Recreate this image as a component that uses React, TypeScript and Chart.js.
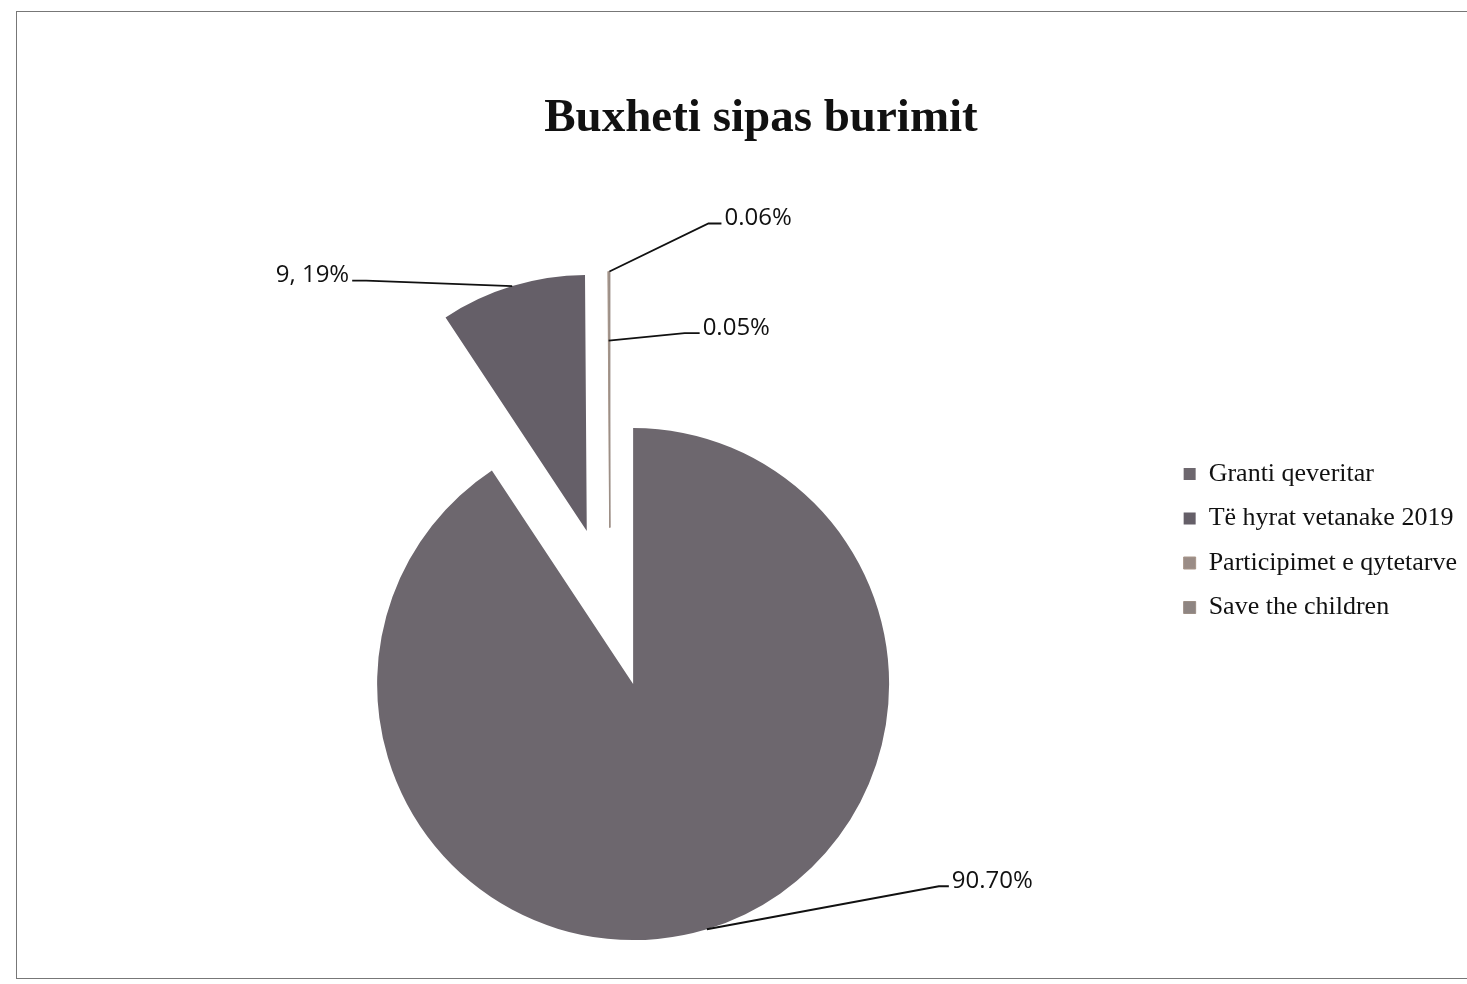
import React, { useEffect, useRef } from 'react';
import { Chart, registerables } from 'chart.js';

Chart.register(...registerables);

const TITLE = 'Buxheti sipas burimit';
const CATEGORIES = ['Granti qeveritar', 'Të hyrat vetanake 2019', 'Participimet e qytetarve', 'Save the children'];
const VALUES = [90.7, 9.19, 0.05, 0.06];
const VALUE_LABELS = ['90.70%', '9, 19%', '0.05%', '0.06%'];

const SLICE_COLORS = ['#6d676e', '#655f68', '#9a8c86', '#8e8582'];
const SLICE_BORDER = ['#6d676e', '#655f68', '#a8968a', '#9c8f86'];
const SLICE_BORDER_WIDTH = [0, 0, 1, 1];
const EXPLODE = [80, 80, 80, 80];
const LEADER_ANCHOR = [1, 1, 0.73, 1];
const LEADER_DELTA: [number, number][] = [[232, -43], [-146, -5.5], [76, -7.5], [99, -48]];
const LEADER_TAIL = [10, 14, 15, 13];

const SERIF = "'Liberation Serif', 'Times New Roman', serif";
const SANS = "'Open Sans', 'Liberation Sans', sans-serif";

const explodePlugin = {
  id: 'explodeSlices',
  beforeDatasetDraw(chart: any, args: any) {
    const meta = chart.getDatasetMeta(args.index);
    const ctx = chart.ctx;
    meta.data.forEach((arc: any, i: number) => {
      const mid = (arc.startAngle + arc.endAngle) / 2;
      const d = EXPLODE[i] || 0;
      ctx.save();
      ctx.translate(Math.cos(mid) * d, Math.sin(mid) * d);
      arc.draw(ctx);
      ctx.restore();
    });
    return false;
  },
};

const leaderPlugin = {
  id: 'leaderLabels',
  afterDatasetsDraw(chart: any) {
    const meta = chart.getDatasetMeta(0);
    const ctx = chart.ctx;
    ctx.save();
    ctx.strokeStyle = '#111';
    ctx.lineWidth = 1.9;
    ctx.fillStyle = '#111';
    ctx.font = `24px ${SANS}`;
    ctx.textBaseline = 'alphabetic';
    meta.data.forEach((arc: any, i: number) => {
      const mid = (arc.startAngle + arc.endAngle) / 2;
      const d = EXPLODE[i] || 0;
      const cx = arc.x + Math.cos(mid) * d;
      const cy = arc.y + Math.sin(mid) * d;
      const r = arc.outerRadius * LEADER_ANCHOR[i];
      const sx = cx + Math.cos(mid) * r;
      const sy = cy + Math.sin(mid) * r;
      const [dx, dy] = LEADER_DELTA[i];
      const ex = sx + dx;
      const ey = sy + dy;
      const side = dx >= 0 ? 1 : -1;
      const tx = ex + side * LEADER_TAIL[i];
      ctx.beginPath();
      ctx.moveTo(sx, sy);
      ctx.lineTo(ex, ey);
      ctx.lineTo(tx, ey);
      ctx.stroke();
      ctx.textAlign = side > 0 ? 'left' : 'right';
      ctx.fillText(VALUE_LABELS[i], tx + side * 3, ey + 1.5);
    });
    ctx.restore();
  },
};

export default function App() {
  const ref = useRef<HTMLCanvasElement>(null);
  useEffect(() => {
    document.body.style.margin = '0';
    const chart = new Chart(ref.current as HTMLCanvasElement, {
      type: 'pie',
      data: {
        labels: CATEGORIES,
        datasets: [
          {
            data: VALUES,
            backgroundColor: SLICE_COLORS,
            borderColor: SLICE_BORDER,
            borderWidth: SLICE_BORDER_WIDTH,
            offset: 0,
          },
        ],
      },
      options: {
        responsive: false,
        animation: false,
        events: [],
        radius: 256,
        layout: { padding: { left: 55, right: 0, top: 0, bottom: 5 } },
        plugins: {
          title: {
            display: true,
            text: TITLE,
            color: '#111',
            font: { family: SERIF, size: 47, weight: 'bold' },
            padding: { top: 90.8, bottom: 88.8 },
          },
          legend: {
            position: 'right',
            align: 'start',
            title: {
              display: true,
              text: ' ',
              font: { size: 1 },
              padding: { top: 0, bottom: 441.3 },
            },
            labels: {
              boxWidth: 12,
              boxHeight: 12,
              padding: 18.5,
              color: '#111',
              font: { family: SERIF, size: 26 },
            },
          },
          tooltip: { enabled: false },
        },
      } as any,
      plugins: [explodePlugin, leaderPlugin],
    });
    return () => chart.destroy();
  }, []);

  return (
    <div
      style={{
        position: 'absolute',
        left: 0,
        top: 0,
        width: 1467,
        height: 984,
        background: '#fff',
        overflow: 'hidden',
      }}
    >
      <div
        style={{
          position: 'absolute',
          left: 16,
          top: 11,
          width: 1500,
          height: 966,
          borderLeft: '1px solid #777',
          borderTop: '1px solid #777',
          borderBottom: '1px solid #777',
        }}
      />
      <canvas
        ref={ref}
        width={1467}
        height={984}
        style={{ position: 'absolute', left: 0, top: 0, width: 1467, height: 984 }}
      />
    </div>
  );
}
